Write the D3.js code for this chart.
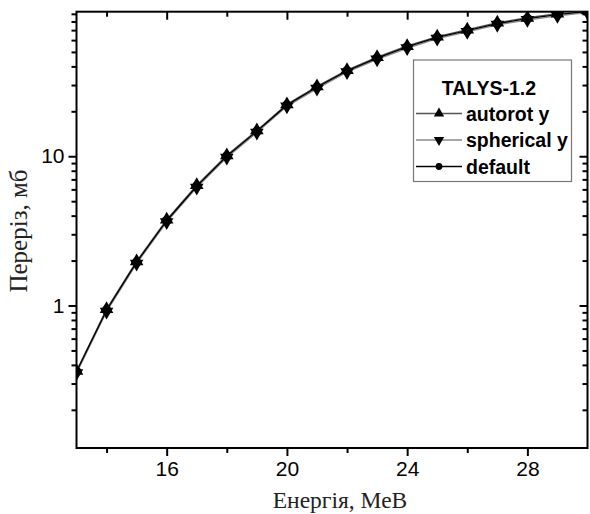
<!DOCTYPE html>
<html>
<head>
<meta charset="utf-8">
<script src="https://cdn.jsdelivr.net/npm/d3@7"></script>
<style>
  html, body { margin: 0; padding: 0; background: #fff; }
  svg { display: block; }
</style>
</head>
<body>
<svg id="chart" width="590" height="514"></svg>
<script>
// Cross section vs. energy, TALYS-1.2 calculations
const energies = [13, 14, 15, 16, 17, 18, 19, 20, 21, 22, 23, 24, 25, 26, 27, 28, 29, 30];
const autorotY   = [0.365, 0.945, 1.98, 3.76, 6.40, 10.15, 14.9, 22.3, 29.4, 37.8, 46.1, 54.8, 63.4, 70.5, 78.6, 84.7, 90.3, 94.9];
const sphericalY = [0.352, 0.91, 1.91, 3.62, 6.17, 9.8, 14.4, 21.6, 28.4, 36.6, 44.6, 52.9, 61.3, 68.1, 76.0, 81.8, 87.2, 91.6];
const defaultY   = [0.36, 0.93, 1.95, 3.70, 6.30, 10.0, 14.7, 22.0, 29.0, 37.3, 45.5, 54.0, 62.5, 69.5, 77.5, 83.5, 89.0, 93.5];

const seriesNames = ["autorot y", "spherical y", "default"];
const legendTitle = "TALYS-1.2";
const xMajorTicks = [16, 20, 24, 28];
const xMinorTicks = [14, 18, 22, 26];
const yMajorTicks = [1, 10];
const yMinorTicks = [0.2, 0.3, 0.4, 0.5, 0.6, 0.7, 0.8, 0.9, 2, 3, 4, 5, 6, 7, 8, 9, 20, 30, 40, 50, 60, 70, 80, 90];
const xDomain = [13, 30];
const yDomain = [0.111, 93];
const xTitle = "Енергія, МеВ";
const yTitle = "Переріз, мб";

const series = [
  { name: seriesNames[0], values: autorotY,   symbol: "up",     color: "#555" },
  { name: seriesNames[1], values: sphericalY, symbol: "down",   color: "#8a8a8a" },
  { name: seriesNames[2], values: defaultY,   symbol: "circle", color: "#000" }
];

const svg = d3.select("#chart");
const plot = { left: 76.5, right: 587.5, top: 11.7, bottom: 448 };

const x = d3.scaleLinear().domain(xDomain).range([plot.left, plot.right]);
const y = d3.scaleLog().domain(yDomain).range([plot.bottom, plot.top]);

svg.append("defs").append("clipPath").attr("id", "plotClip")
  .append("rect")
  .attr("x", plot.left).attr("y", plot.top)
  .attr("width", plot.right - plot.left).attr("height", plot.bottom - plot.top);

const sans = "'Liberation Sans', Arial, sans-serif";
const serif = "'Liberation Serif', 'Times New Roman', serif";

function styleAxis(g) {
  g.select(".domain").remove();
  g.selectAll(".tick line").attr("stroke", "#000").attr("stroke-width", 2);
  g.selectAll(".tick text").attr("fill", "#000").style("font-family", sans).style("font-size", "21px");
}

// bottom axis: ticks outward
svg.append("g").attr("transform", `translate(0,${plot.bottom})`)
  .call(d3.axisBottom(x).tickValues(xMajorTicks).tickSize(8).tickPadding(5).tickFormat(d3.format("d")))
  .call(styleAxis);
svg.append("g").attr("transform", `translate(0,${plot.bottom})`)
  .call(d3.axisBottom(x).tickValues(xMinorTicks).tickSize(5).tickFormat(""))
  .call(styleAxis);
// top axis: ticks inward
svg.append("g").attr("transform", `translate(0,${plot.top})`)
  .call(d3.axisTop(x).tickValues(xMajorTicks).tickSize(-8).tickFormat(""))
  .call(styleAxis);
svg.append("g").attr("transform", `translate(0,${plot.top})`)
  .call(d3.axisTop(x).tickValues(xMinorTicks).tickSize(-5).tickFormat(""))
  .call(styleAxis);
// left axis: ticks outward
svg.append("g").attr("transform", `translate(${plot.left},0)`)
  .call(d3.axisLeft(y).tickValues(yMajorTicks).tickSize(8).tickPadding(4).tickFormat(d3.format("d")))
  .call(styleAxis);
svg.append("g").attr("transform", `translate(${plot.left},0)`)
  .call(d3.axisLeft(y).tickValues(yMinorTicks).tickSize(5).tickFormat(""))
  .call(styleAxis);
// right axis: ticks inward
svg.append("g").attr("transform", `translate(${plot.right},0)`)
  .call(d3.axisRight(y).tickValues(yMajorTicks).tickSize(-8).tickFormat(""))
  .call(styleAxis);
svg.append("g").attr("transform", `translate(${plot.right},0)`)
  .call(d3.axisRight(y).tickValues(yMinorTicks).tickSize(-5).tickFormat(""))
  .call(styleAxis);

// frame
svg.append("rect")
  .attr("x", plot.left).attr("y", plot.top)
  .attr("width", plot.right - plot.left).attr("height", plot.bottom - plot.top)
  .attr("fill", "none").attr("stroke", "#000").attr("stroke-width", 2);

// data lines and markers
const line = d3.line().x((d, i) => x(energies[i])).y(d => y(d));
const symbolFor = s => s === "circle"
  ? d3.symbol(d3.symbolCircle, 72)
  : d3.symbol(d3.symbolTriangle, 80);

const dataG = svg.append("g").attr("clip-path", "url(#plotClip)");
series.forEach(s => {
  dataG.append("path").datum(s.values)
    .attr("d", line).attr("fill", "none")
    .attr("stroke", s.color).attr("stroke-width", 1.3);
});
series.forEach(s => {
  dataG.selectAll(null).data(s.values).enter().append("path")
    .attr("d", symbolFor(s.symbol))
    .attr("transform", (d, i) => `translate(${x(energies[i])},${y(d)})` + (s.symbol === "down" ? " rotate(180)" : ""))
    .attr("fill", "#000");
});

// legend
const lg = svg.append("g");
lg.append("rect").attr("x", 413.5).attr("y", 60).attr("width", 158).attr("height", 121.5)
  .attr("fill", "#fff").attr("stroke", "#777").attr("stroke-width", 1.2);
lg.append("text").attr("x", 489).attr("y", 95).attr("text-anchor", "middle")
  .style("font-family", sans).style("font-size", "19.5px").style("font-weight", "bold")
  .text(legendTitle);
series.forEach((s, i) => {
  const cy = 113.5 + i * 26.5;
  lg.append("line").attr("x1", 416).attr("x2", 462).attr("y1", cy).attr("y2", cy)
    .attr("stroke", s.color).attr("stroke-width", 1.3);
  lg.append("path")
    .attr("d", s.symbol === "circle" ? d3.symbol(d3.symbolCircle, 36)() : d3.symbol(d3.symbolTriangle, 46)())
    .attr("transform", `translate(439,${cy})` + (s.symbol === "down" ? " rotate(180)" : ""))
    .attr("fill", "#000");
  lg.append("text").attr("x", 466).attr("y", cy + 7)
    .style("font-family", sans).style("font-size", "19.5px").style("font-weight", "bold")
    .text(s.name);
});

// axis titles
svg.append("text").attr("x", 340).attr("y", 508).attr("text-anchor", "middle")
  .style("font-family", serif).style("font-size", "23.5px").attr("fill", "#222")
  .text(xTitle);
svg.append("text").attr("transform", "translate(27,231) rotate(-90)").attr("text-anchor", "middle")
  .style("font-family", serif).style("font-size", "25px").attr("fill", "#222")
  .text(yTitle);
</script>
</body>
</html>
